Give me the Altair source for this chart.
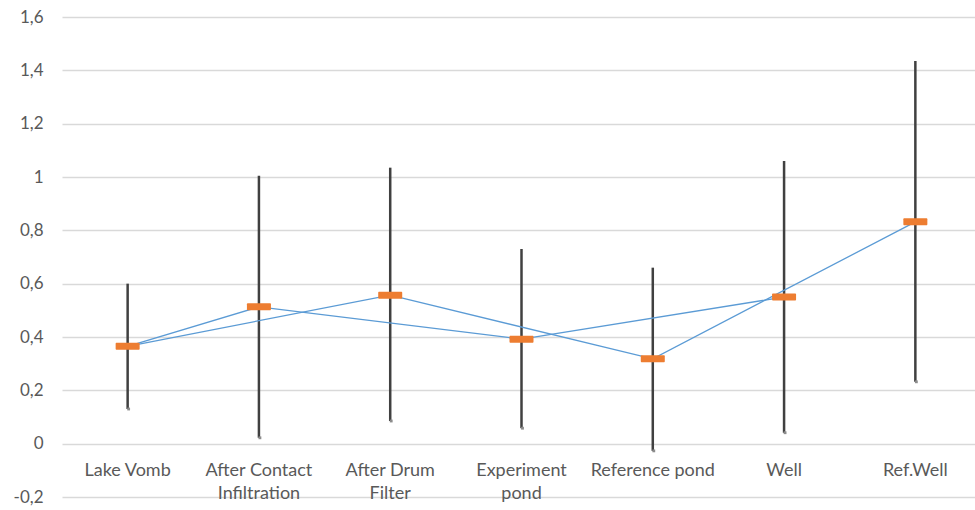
import altair as alt
import pandas as pd

categories = ["Lake Vomb", "After Contact Infiltration", "After Drum Filter",
              "Experiment pond", "Reference pond", "Well", "Ref.Well"]
label_lines = {
    "After Contact Infiltration": ["After Contact", "Infiltration"],
    "After Drum Filter": ["After Drum", "Filter"],
    "Experiment pond": ["Experiment", "pond"],
}
max_vals = [0.60, 1.005, 1.035, 0.73, 0.66, 1.06, 1.435]
mean_vals = [0.365, 0.513, 0.557, 0.392, 0.318, 0.550, 0.832]
min_vals = [0.13, 0.022, 0.085, 0.058, -0.027, 0.041, 0.232]

# two connecting line series (category index lists)
series_a = [0, 2, 4, 6]
series_b = [0, 1, 3, 5]

y_ticks = [-0.2, 0, 0.2, 0.4, 0.6, 0.8, 1.0, 1.2, 1.4, 1.6]

df = pd.DataFrame({"cat": categories, "max": max_vals, "mean": mean_vals, "min": min_vals})

rows = []
for name, idx in (("A", series_a), ("B", series_b)):
    for order, i in enumerate(idx):
        rows.append({"series": name, "order": order, "cat": categories[i], "mean": mean_vals[i]})
lines_df = pd.DataFrame(rows)

expr = "datum.label"
for k, v in label_lines.items():
    arr = "[" + ",".join("'" + s + "'" for s in v) + "]"
    expr = f"datum.label == '{k}' ? {arr} : ({expr})"

x_enc = alt.X("cat:N", sort=categories, title=None,
              scale=alt.Scale(range=[0, 919], paddingInner=0, paddingOuter=0),
              axis=alt.Axis(labelAngle=0, domain=False, ticks=False, grid=False,
                            offset=-53, labelPadding=17, labelLineHeight=23,
                            labelFont="Lato", labelFontSize=18, labelColor="#595959",
                            labelExpr=expr, labelBaseline="top"))
y_scale = alt.Scale(domain=[-0.2, 1.6], nice=False, zero=False)
y_axis = alt.Axis(values=y_ticks, domain=False, ticks=False, gridColor="#d9d9d9",
                  gridWidth=1.5, labelFont="Lato", labelFontSize=17, labelColor="#595959",
                  labelPadding=19, labelExpr="replace(toString(datum.value), '.', ',')")

base = alt.Chart(df)

rules = base.mark_rule(color="#404040", strokeWidth=2.5).encode(
    x=x_enc,
    y=alt.Y("min:Q", scale=y_scale, axis=y_axis, title=None),
    y2="max:Q",
)

mins = base.mark_square(color="#8c8c8c", size=8, opacity=1, xOffset=1).encode(
    x=alt.X("cat:N", sort=categories),
    y=alt.Y("min:Q"),
)

lines = alt.Chart(lines_df).mark_line(color="#5B9BD5", strokeWidth=1.3).encode(
    x=alt.X("cat:N", sort=categories),
    y=alt.Y("mean:Q"),
    detail="series:N",
    order="order:Q",
)

ticks = base.mark_tick(color="#ED7D31", size=24, thickness=7, opacity=1, cornerRadius=1).encode(
    x=alt.X("cat:N", sort=categories),
    y=alt.Y("mean:Q"),
)

chart = alt.layer(rules, mins, lines, ticks).properties(
    width=913, height=480,
    background="white",
    autosize=alt.AutoSizeParams(type="none"),
    padding={"left": 62, "top": 17, "right": 0, "bottom": 13},
).configure_view(stroke=None).configure_axisY(domain=False).configure_axisX(
    domain=False, grid=False
)

chart.save("out.html", embed_options={"renderer": "svg", "actions": False})
